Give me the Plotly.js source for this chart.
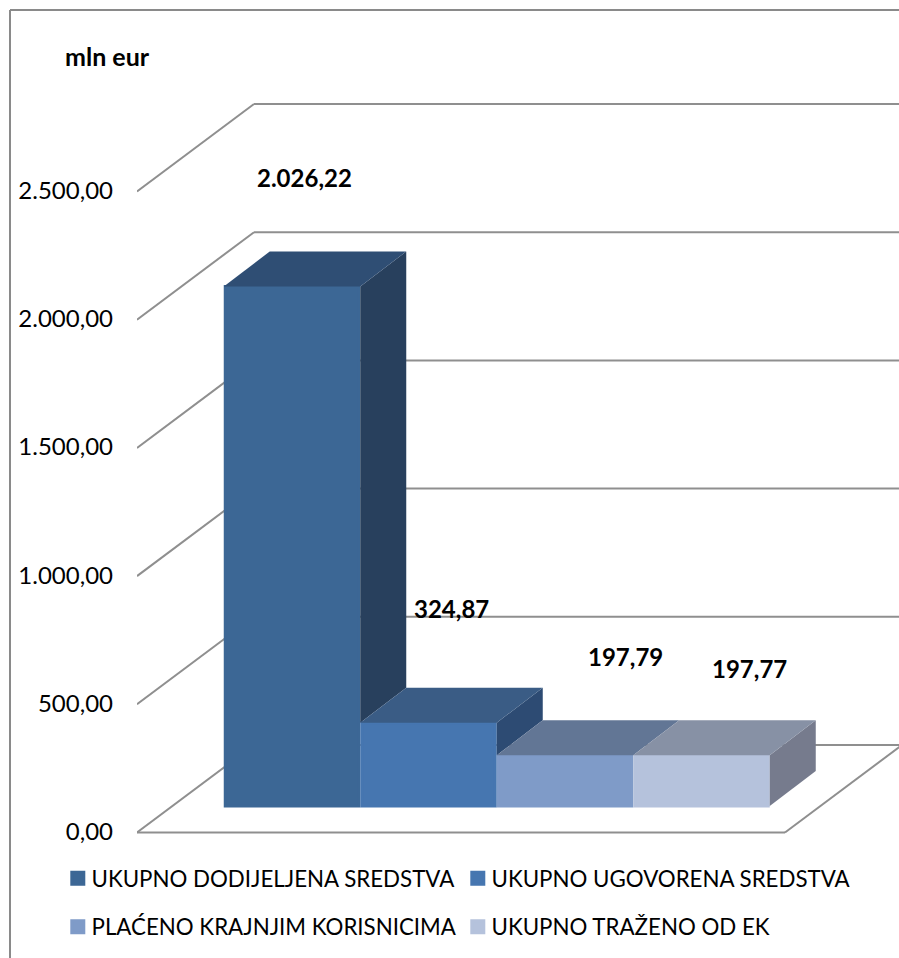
<!DOCTYPE html>
<html><head><meta charset="utf-8">
<script src="https://cdn.plot.ly/plotly-3.0.1.min.js"></script>
<style>html,body{margin:0;padding:0;background:#fff}#c{width:899px;height:958px}</style>
</head><body><div id="c"></div>
<script>
// Data
const categories = ['UKUPNO DODIJELJENA SREDSTVA','UKUPNO UGOVORENA SREDSTVA','PLAĆENO KRAJNJIM KORISNICIMA','UKUPNO TRAŽENO OD EK'];
const values = [2026.22, 324.87, 197.79, 197.77];
const valueLabels = ['2.026,22','324,87','197,79','197,77'];
const tickValues = [0, 500, 1000, 1500, 2000, 2500];
// Styles
const frontColors = ['#3c6795','#4676b0','#7f9bc8','#b5c2dc'];
const topColors   = ['#2f4e74','#3a5c85','#627695','#8791a5'];
const sideColors  = ['#28405d','#2d4b73','#50617f','#767b8d'];
// Pseudo-3D geometry (x in bar-widths, y in value units)
const pxX = 136.5, pxY = 0.2564, zeroPx = 832.5;
const leftEdge = -155/pxX, rightEdge = 607/pxX;
const floorOffset = 26.5/pxY;
const barDX = 46/pxX, barDY = 35/pxY;
const wallDX = 117/pxX, wallDY = 87.5/pxY;
const floorRight = 493/pxX;
const labelX = [0.095, 1.165, 2.44, 3.355];
const labelY = [2553, 872, 688, 638];
const legendLeft = [58.5, 458.5, 58.5, 458.5];
const legendRow = [878.3, 878.3, 926.7, 926.7];

const gridColor = '#8f8f8f';
const shapes = [];
const line = (x0,y0,x1,y1)=>shapes.push({type:'line',layer:'below',xref:'x',yref:'y',x0,y0,x1,y1,line:{color:gridColor,width:2}});
tickValues.forEach(v=>{
  line(leftEdge, v, leftEdge+wallDX, v+wallDY);
  line(leftEdge+wallDX, v+wallDY, rightEdge, v+wallDY);
});
line(leftEdge,0,floorRight,0);
line(floorRight,0,floorRight+wallDX,wallDY);
const pxLeft = 137, plotW = 762, H = 958;
shapes.push({type:'line',xref:'paper',yref:'paper',x0:(10-pxLeft)/plotW,x1:(10-pxLeft)/plotW,y0:0,y1:1-10/H,line:{color:'#8a8a8a',width:2}});
shapes.push({type:'line',xref:'paper',yref:'paper',x0:(10-pxLeft)/plotW,x1:1,y0:1-10/H,y1:1-10/H,line:{color:'#8a8a8a',width:2}});

const legendName = i => i===0 ? 'legend' : 'legend'+(i+1);
const traces = [];
categories.forEach((c,i)=>{
  traces.push({type:'bar',name:c,x:[i],y:[values[i]],base:floorOffset,width:1-3/pxX,
    marker:{color:frontColors[i],line:{width:3,color:frontColors[i]}},hoverinfo:'name+y',
    legend:legendName(i)});
});
categories.forEach((c,i)=>{
  const top = values[i]+floorOffset, xr = i+0.5;
  const next = i+1<values.length ? values[i+1]+floorOffset : floorOffset;
  if (top>next+1){
    traces.push({type:'scatter',mode:'none',fill:'toself',fillcolor:sideColors[i],showlegend:false,hoverinfo:'skip',
      x:[xr,xr+barDX,xr+barDX,xr,xr],y:[top,top+barDY,next+barDY,next,top]});
  }
});
categories.forEach((c,i)=>{
  const top = values[i]+floorOffset, xr = i+0.5, xl = i-0.5;
  traces.push({type:'scatter',mode:'none',fill:'toself',fillcolor:topColors[i],showlegend:false,hoverinfo:'skip',
    x:[xl,xl+barDX,xr+barDX,xr,xl],y:[top,top+barDY,top+barDY,top,top]});
});

const fam = 'Lato, Carlito, Calibri, sans-serif';
const txtFont = {family:fam,size:24,color:'#000'};
const annotations = valueLabels.map((t,i)=>({text:'<b>'+t+'</b>',x:labelX[i],y:labelY[i],xref:'x',yref:'y',showarrow:false,font:txtFont}));
annotations.push({text:'<b>mln eur</b>',xref:'paper',yref:'paper',x:(107-pxLeft)/plotW,y:1-56/H,xanchor:'center',yanchor:'middle',showarrow:false,font:{...txtFont,size:25}});

const layout = {
  width:899,height:958,margin:{l:pxLeft,r:0,t:0,b:0,pad:0},
  paper_bgcolor:'#fff',plot_bgcolor:'#fff',
  separators:',.',
  barmode:'overlay',bargap:0,
  font:txtFont,
  xaxis:{range:[leftEdge,rightEdge],visible:false,fixedrange:true},
  yaxis:{range:[(zeroPx-958)/pxY,zeroPx/pxY],tickmode:'array',tickvals:tickValues,tickformat:',.2f',
    showgrid:false,zeroline:false,showline:false,ticks:'',ticklabelstandoff:23,ticklabelshift:-1,fixedrange:true,tickfont:txtFont},
  shapes,annotations,showlegend:true
};
categories.forEach((c,i)=>{
  layout[legendName(i)] = {orientation:'v',xanchor:'left',yanchor:'middle',font:{family:fam,size:22.3,color:'#000'},
    bgcolor:'rgba(0,0,0,0)',indentation:-7,borderwidth:0,
    x:(legendLeft[i]-pxLeft)/plotW,y:1-legendRow[i]/H};
});

Plotly.newPlot('c',traces,layout,{staticPlot:true,displayModeBar:false}).then(gd=>{
  // legend swatches sit closer to their text than Plotly's fixed item width allows
  gd.querySelectorAll('.legendsymbols').forEach(g=>g.setAttribute('transform','translate(6.3,0)'));
});
</script></body></html>
